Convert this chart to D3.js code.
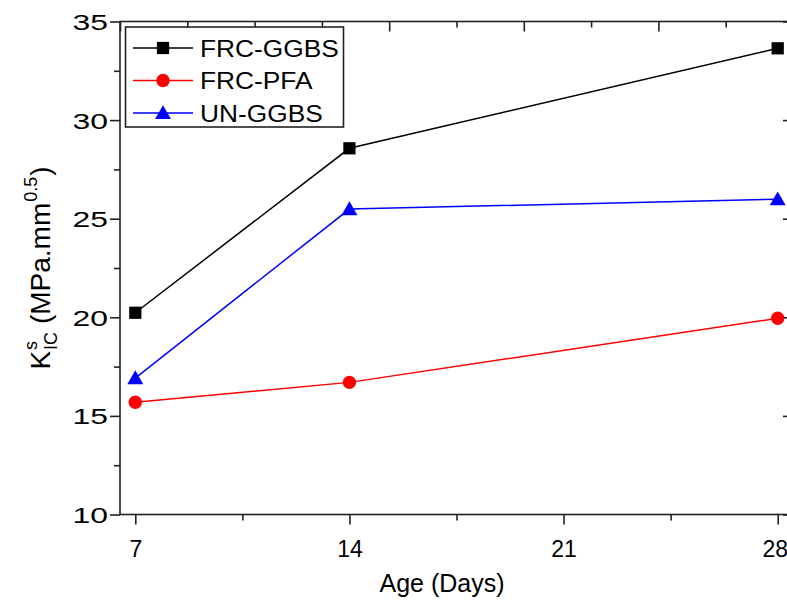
<!DOCTYPE html>
<html><head><meta charset="utf-8">
<script src="https://cdn.jsdelivr.net/npm/d3@7"></script>
<style>body{margin:0;background:#fff}svg{display:block}text{font-family:"Liberation Sans",Arial,sans-serif;fill:#000}</style>
</head><body>
<script>
const ages = [7, 14, 28];
const frcGgbs = [20.23, 28.57, 33.64];
const frcPfa = [15.69, 16.70, 19.95];
const unGgbs = [16.92, 25.49, 25.99];
const seriesNames = ["FRC-GGBS", "FRC-PFA", "UN-GGBS"];
const seriesColors = ["#000000", "#ff0000", "#0000ff"];
const seriesSymbols = ["square", "circle", "triangle"];
const xTicks = [7, 14, 21, 28];
const xMinor = [10.5, 17.5, 24.5];
const yTicks = [10, 15, 20, 25, 30, 35];
const yMinor = [12.5, 17.5, 22.5, 27.5, 32.5];

const W = 787, H = 603;
const L = 120, R = 793, T = 21.5, B = 514.5;
const svg = d3.select("body").append("svg").attr("width", W).attr("height", H);
const x = d3.scaleLinear().domain([6.5, 28.5]).range([L, R]);
const y = d3.scaleLinear().domain([10, 35]).range([B, T]);
const xTop = d3.scaleLinear().domain([0, 10]).range([L, R]);

function styleAxis(g){ g.select(".domain").remove(); g.selectAll("line").attr("stroke","#222").attr("stroke-width",1.6); }

// bottom axis
const gB = svg.append("g").attr("transform", `translate(0,${B})`)
  .call(d3.axisBottom(x).tickValues(xTicks).tickSize(10).tickFormat(d3.format("d")));
styleAxis(gB);
gB.selectAll("text").attr("font-size", 23).attr("y", 42).attr("dy", null);
gB.selectAll(".tick").filter(d => d === 28).select("text").attr("dx", -3);
const gBm = svg.append("g").attr("transform", `translate(0,${B})`)
  .call(d3.axisBottom(x).tickValues(xMinor).tickSize(6).tickFormat(""));
styleAxis(gBm);

// left axis
const gL = svg.append("g").attr("transform", `translate(${L},0)`)
  .call(d3.axisLeft(y).tickValues(yTicks).tickSize(10).tickFormat(d3.format("d")));
styleAxis(gL);
gL.selectAll(".tick text").each(function(){
  const t = d3.select(this);
  t.attr("x", null).attr("dy", null).attr("font-size", 22)
   .attr("text-anchor","end")
   .attr("transform", "translate(-12,8) scale(1.45,1)");
});
const gLm = svg.append("g").attr("transform", `translate(${L},0)`)
  .call(d3.axisLeft(y).tickValues(yMinor).tickSize(6).tickFormat(""));
styleAxis(gLm);

// top axis (inward)
const gT = svg.append("g").attr("transform", `translate(0,${T})`)
  .call(d3.axisBottom(xTop).tickValues([0,2,4,6,8,10]).tickSize(10).tickFormat(""));
styleAxis(gT);
const gTm = svg.append("g").attr("transform", `translate(0,${T})`)
  .call(d3.axisBottom(xTop).tickValues([1,3,5,7,9]).tickSize(6).tickFormat(""));
styleAxis(gTm);

// right axis (inward)
const gR = svg.append("g").attr("transform", `translate(${R},0)`)
  .call(d3.axisLeft(y).tickValues(yTicks).tickSize(10).tickFormat(""));
styleAxis(gR);
const gRm = svg.append("g").attr("transform", `translate(${R},0)`)
  .call(d3.axisLeft(y).tickValues(yMinor).tickSize(6).tickFormat(""));
styleAxis(gRm);

// frame
svg.append("rect").attr("x", L).attr("y", T).attr("width", R - L).attr("height", B - T)
  .attr("fill", "none").attr("stroke", "#222").attr("stroke-width", 1.6);

// markers
const symTypes = {square: d3.symbolSquare, circle: d3.symbolCircle, triangle: d3.symbolTriangle};
const symSizes = {square: 150, circle: 140, triangle: 110};
function marker(g, type, color, cx, cy){
  g.append("path").attr("d", d3.symbol().type(symTypes[type]).size(symSizes[type])())
   .attr("transform", `translate(${cx},${cy + (type==="triangle"?1.5:0)})`).attr("fill", color);
}

const allSeries = [frcGgbs, frcPfa, unGgbs];
const line = d3.line().x((d,i)=>x(ages[i])).y(d=>y(d));
allSeries.forEach((vals, si) => {
  svg.append("path").datum(vals).attr("d", line).attr("fill","none")
    .attr("stroke", seriesColors[si]).attr("stroke-width", 1.5);
});
allSeries.forEach((vals, si) => {
  const g = svg.append("g");
  vals.forEach((v,i)=> marker(g, seriesSymbols[si], seriesColors[si], x(ages[i]), y(v)));
});

// legend
const lg = svg.append("g");
lg.append("rect").attr("x",125.5).attr("y",27).attr("width",218).attr("height",100)
  .attr("fill","#fff").attr("stroke","#222").attr("stroke-width",1.6);
const rowY = [48, 80.5, 113];
seriesNames.forEach((n,i)=>{
  lg.append("line").attr("x1",133).attr("x2",193).attr("y1",rowY[i]).attr("y2",rowY[i])
    .attr("stroke",seriesColors[i]).attr("stroke-width",1.5);
  marker(lg, seriesSymbols[i], seriesColors[i], 163, rowY[i]);
  lg.append("text").attr("transform",`translate(200,${rowY[i]+8.5}) scale(1.12,1)`)
    .attr("font-size",23.5).text(n);
});

// x title
svg.append("text").attr("x", 442).attr("y", 592).attr("text-anchor","middle")
  .attr("font-size", 25).text("Age (Days)");

// y title (rotated, built from pieces)
const yt = svg.append("g").attr("transform", "translate(50,268) rotate(-90)");
const fs = 28, sfs = 18;
let cx = 0;
const tK = yt.append("text").attr("font-size", fs).attr("x", 0).attr("y", 0).text("K");
cx += tK.node().getComputedTextLength() + 1;
const tS = yt.append("text").attr("font-size", sfs).attr("x", cx).attr("y", -13).text("s");
const tIC = yt.append("text").attr("font-size", sfs).attr("x", cx).attr("y", 7).text("IC");
cx += Math.max(tS.node().getComputedTextLength(), tIC.node().getComputedTextLength());
const tM = yt.append("text").attr("font-size", fs).attr("x", cx).attr("y", 0).attr("xml:space","preserve").text(" (MPa.mm");
cx += tM.node().getComputedTextLength() + 1;
const t05 = yt.append("text").attr("font-size", sfs).attr("x", cx).attr("y", -13).text("0.5");
cx += t05.node().getComputedTextLength() + 1;
const tP = yt.append("text").attr("font-size", fs).attr("x", cx).attr("y", 0).text(")");
cx += tP.node().getComputedTextLength();
yt.selectAll("text").attr("transform", `translate(${-cx/2},0)`);
</script>
</body></html>
